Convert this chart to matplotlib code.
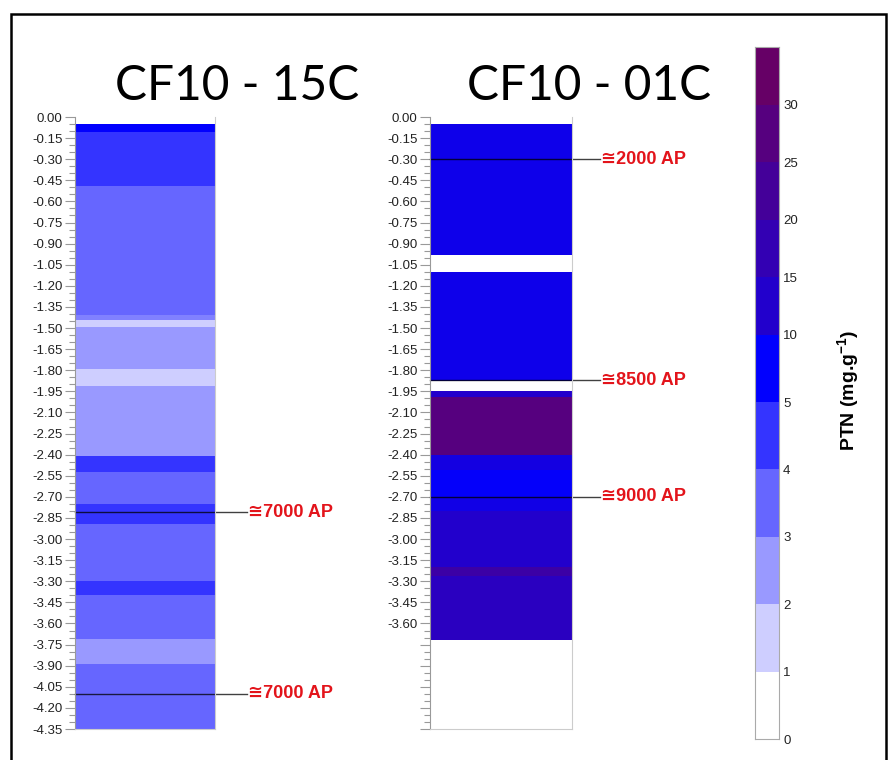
import numpy as np
import matplotlib
matplotlib.use("Agg")
import matplotlib.pyplot as plt
from matplotlib.colors import LinearSegmentedColormap
from matplotlib.patches import Rectangle
from matplotlib.ticker import FixedLocator, MultipleLocator, FuncFormatter

# ---- data -------------------------------------------------------------
# PTN class limits (mg.g-1) and class colours of the scale
levels = [0, 1, 2, 3, 4, 5, 10, 15, 20, 25, 30, 35]
class_colors = ['#ffffff', '#ccccff', '#9999ff', '#6666ff', '#3333ff', '#0000ff',
                '#2200cc', '#3300b3', '#440099', '#550080', '#660066']

# core CF10 - 15C : layer top, layer bottom (m), PTN
top_15c = [-0.05, -0.11, -0.49, -1.41, -1.44, -1.49, -1.79, -1.91, -2.41, -2.52,
           -2.75, -2.89, -3.30, -3.40, -3.71, -3.89]
bot_15c = [-0.11, -0.49, -1.41, -1.44, -1.49, -1.79, -1.91, -2.41, -2.52, -2.75,
           -2.89, -3.30, -3.40, -3.71, -3.89, -4.35]
ptn_15c = [7.5, 4.5, 3.5, 3.0, 1.5, 2.5, 1.5, 2.5, 4.5, 3.5,
           4.5, 3.5, 4.5, 3.5, 2.5, 3.5]
dates_15c = [-2.81, -4.10]
notes_15c = ['≅7000 AP', '≅7000 AP']

# core CF10 - 01C
top_01c = [-0.05, -1.10, -1.95, -1.99, -2.40, -2.51, -2.70, -2.80, -3.20, -3.26]
bot_01c = [-0.98, -1.88, -1.99, -2.40, -2.51, -2.70, -2.80, -3.20, -3.26, -3.72]
ptn_01c = [9.5, 9.5, 12.5, 27.5, 10.5, 8.0, 10.0, 12.5, 20.0, 15.0]
dates_01c = [-0.30, -1.87, -2.70]
notes_01c = ['≅2000 AP', '≅8500 AP', '≅9000 AP']

depth_ticks = np.round(-np.arange(0, 30) * 0.15, 2)

# ---- colour scale -------------------------------------------------------
n_cls = len(class_colors)
anchors = [(0.0, class_colors[0])]
anchors += [((i + 0.5) / n_cls, c) for i, c in enumerate(class_colors)]
anchors += [(1.0, class_colors[-1])]
cmap = LinearSegmentedColormap.from_list('ptn', anchors)


def ptn_color(v):
    return cmap(np.interp(v, levels, np.linspace(0, 1, len(levels))))


plt.rcParams['mathtext.fontset'] = 'custom'
plt.rcParams['mathtext.bf'] = 'Liberation Sans:bold'
plt.rcParams['mathtext.default'] = 'bf'

# ---- figure ----------------------------------------------------------
W, H = 889, 760
fig = plt.figure(figsize=(W / 100, H / 100), dpi=100)
fig.patch.set_facecolor('white')


def box(x0, y0, x1, y1):
    return [x0 / W, 1 - y1 / H, (x1 - x0) / W, (y1 - y0) / H]


fig.add_artist(Rectangle((11 / W, -10 / H), 875 / W, (H - 14 + 10) / H,
                         transform=fig.transFigure, fill=False,
                         edgecolor='black', linewidth=1.8))

note_font = ['Liberation Sans', 'DejaVu Sans']


def draw_core(ax, tops, bots, vals, dates, notes, line_end, last_label):
    for t, b, v in zip(tops, bots, vals):
        ax.bar(0.5, t - b, bottom=b, width=1, color=ptn_color(v), linewidth=0)
    ax.set_xlim(0, 1)
    ax.set_ylim(-4.35, 0)
    ax.set_xticks([])
    ax.yaxis.set_major_locator(FixedLocator(depth_ticks))
    ax.yaxis.set_minor_locator(MultipleLocator(0.05))
    ax.yaxis.set_major_formatter(
        FuncFormatter(lambda v, p: '%.2f' % v if v >= last_label - 1e-6 else ''))
    ax.tick_params(axis='y', which='major', length=7, width=0.8, color='#999999',
                   labelsize=9.5, labelcolor='#222222', pad=2)
    ax.tick_params(axis='y', which='minor', length=4, width=0.8, color='#999999')
    for lbl in ax.get_yticklabels():
        lbl.set_family('Liberation Sans')
    ax.spines['top'].set_visible(False)
    ax.spines['left'].set_color('#999999')
    ax.spines['right'].set_color('#cccccc')
    ax.spines['bottom'].set_color('#cccccc')
    tr = ax.get_yaxis_transform()
    for d, s in zip(dates, notes):
        ax.plot([0, line_end], [d, d], color='black', alpha=0.75, lw=1.0,
                transform=tr, clip_on=False)
        ax.text(line_end + 0.005, d, s, transform=tr, ha='left', va='center',
                color='#e3141b', fontsize=13, fontweight='bold', family=note_font)


ax1 = fig.add_axes(box(75, 117, 215, 729))
draw_core(ax1, top_15c, bot_15c, ptn_15c, dates_15c, notes_15c, 1.23, -4.35)

ax2 = fig.add_axes(box(430, 117, 572, 729))
draw_core(ax2, top_01c, bot_01c, ptn_01c, dates_01c, notes_01c, 1.20, -3.60)

fig.text(237 / W, 1 - 100 / H, 'CF10 - 15C', ha='center', va='baseline',
         fontsize=34.5, family='Lato')
fig.text(589 / W, 1 - 100 / H, 'CF10 - 01C', ha='center', va='baseline',
         fontsize=34.5, family='Lato')

# ---- legend bar (lower classes drawn taller than upper ones) -----------
bin_px = [67.5] * 6 + [57.5] * 5
cb_pos = np.concatenate([[0], np.cumsum(bin_px)])

axc = fig.add_axes(box(754.5, 47.3, 779, 739.3))
axc.set_yscale('function', functions=(lambda v: np.interp(v, levels, cb_pos),
                                      lambda p: np.interp(p, cb_pos, levels)))
for lo, hi in zip(levels[:-1], levels[1:]):
    axc.bar(0.5, hi - lo, bottom=lo, width=1, color=ptn_color((lo + hi) / 2),
            linewidth=0)
axc.set_xlim(0, 1)
axc.set_ylim(0, 35)
axc.set_xticks([])
axc.yaxis.tick_right()
axc.yaxis.set_major_locator(FixedLocator(levels[:-1]))
axc.yaxis.set_minor_locator(FixedLocator([]))
axc.yaxis.set_major_formatter(FuncFormatter(lambda v, p: '%d' % round(v)))
axc.tick_params(axis='y', length=0, pad=3, labelsize=9.5, labelcolor='#222222')
for lbl in axc.get_yticklabels():
    lbl.set_family('Liberation Sans')
for sp in axc.spines.values():
    sp.set_color('#aaaaaa')
    sp.set_linewidth(0.8)

fig.text(848 / W, 1 - 390 / H, 'PTN (mg.g$^{-1}$)', rotation=90, ha='center',
         va='center', fontsize=14, fontweight='bold', family='Liberation Sans')

fig.savefig('out.png', dpi=100)
